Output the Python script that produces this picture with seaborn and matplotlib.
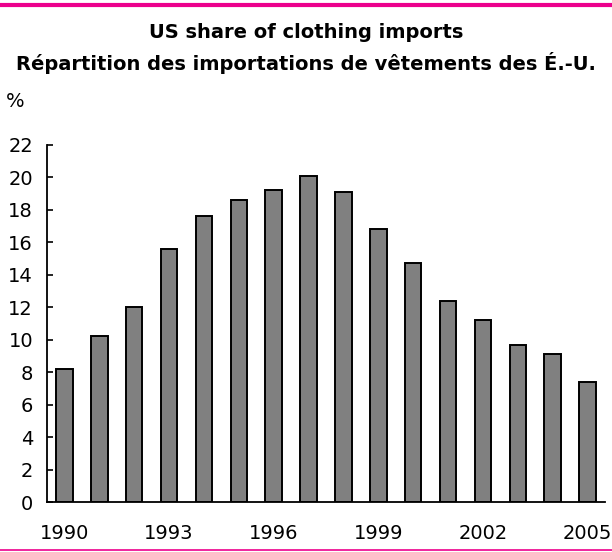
import matplotlib
matplotlib.use("Agg")
import matplotlib.pyplot as plt
from matplotlib.lines import Line2D
import seaborn as sns
import pandas as pd

years = [1990, 1991, 1992, 1993, 1994, 1995, 1996, 1997,
         1998, 1999, 2000, 2001, 2002, 2003, 2004, 2005]
share = [8.2, 10.2, 12.0, 15.6, 17.6, 18.6, 19.2, 20.1,
         19.1, 16.8, 14.7, 12.4, 11.2, 9.7, 9.1, 7.4]
tick_years = [1990, 1993, 1996, 1999, 2002, 2005]
yticks = list(range(0, 23, 2))

title_en = "US share of clothing imports"
title_fr = "Répartition des importations de vêtements des É.-U."
unit = "%"

sns.set_theme(style="white")
plt.rcParams['font.family'] = ['DejaVu Sans']

df = pd.DataFrame({"year": [str(y) for y in years], "share": share})

fig = plt.figure(figsize=(6.12, 5.52), dpi=100)
ax = fig.add_axes([47/612, 50/552, (605-47)/612, (502-145)/552])

sns.barplot(data=df, x="year", y="share", ax=ax, color="#808080",
            saturation=1, width=0.47, edgecolor="black", linewidth=1.4)

ax.set_xlim(-0.5, len(years) - 0.5)
ax.set_ylim(0, 22)
ax.set_yticks(yticks)
ax.set_yticklabels([str(v) for v in yticks])
pos = [years.index(y) for y in tick_years]
ax.set_xticks(pos)
ax.set_xticklabels([str(y) for y in tick_years])
ax.set_xlabel("")
ax.set_ylabel("")

for s in ["top", "right"]:
    ax.spines[s].set_visible(False)
for s in ["left", "bottom"]:
    ax.spines[s].set_color("black")
    ax.spines[s].set_linewidth(1.3)

ax.tick_params(axis="y", direction="in", length=4.5, width=1.2, color="black",
               labelsize=14, pad=10, left=True, labelcolor="black")
ax.tick_params(axis="x", length=0, labelsize=14, pad=16, labelcolor="black")
ax.grid(False)

fig.text(0.5, 1 - 33/552, title_en, ha="center", va="center",
         fontsize=14, fontweight="bold", color="black")
fig.text(0.5, 1 - 63/552, title_fr, ha="center", va="center",
         fontsize=14, fontweight="bold", color="black")
fig.text(6/612, 1 - 102/552, unit, ha="left", va="center",
         fontsize=14, color="black")

fig.add_artist(Line2D([0, 1], [1 - 5/552, 1 - 5/552], color="#EC008C",
                      linewidth=3, transform=fig.transFigure))
fig.add_artist(Line2D([0, 1], [1 - 550/552, 1 - 550/552], color="#EC008C",
                      linewidth=1.2, transform=fig.transFigure))

fig.savefig("out.png", dpi=100)
